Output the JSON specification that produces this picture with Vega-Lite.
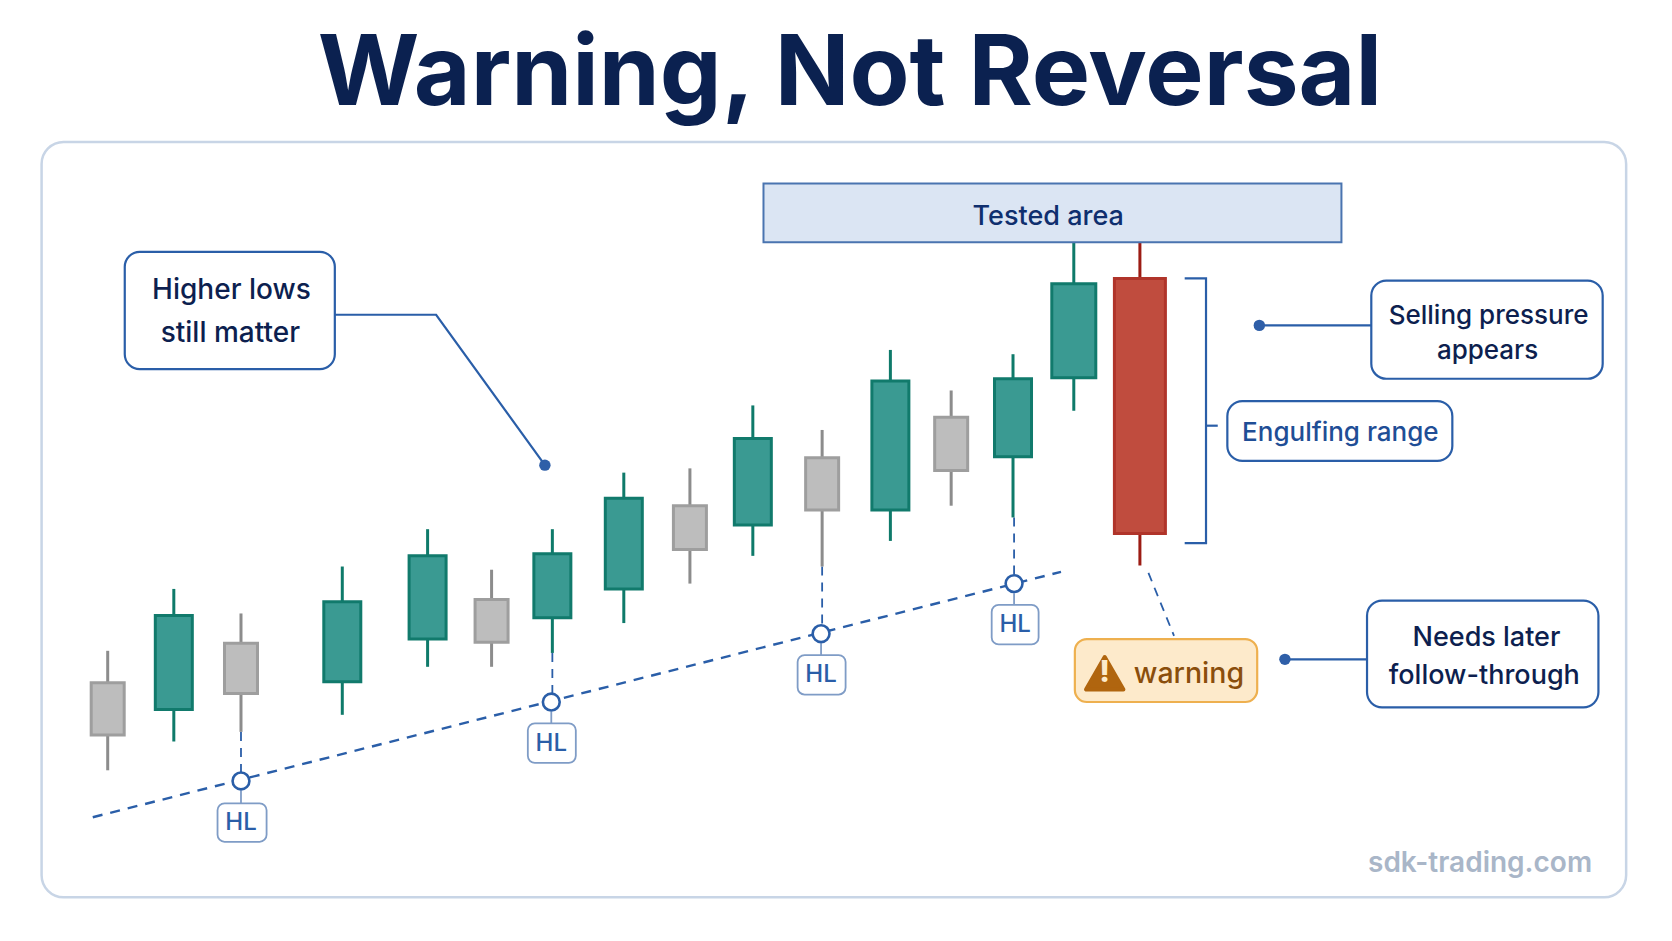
{
"$schema":"https://vega.github.io/schema/vega-lite/v6.json",
"width":1672,"height":941,"padding":0,
"autosize":{"type":"fit","contains":"padding"},
"background":"#ffffff",
"config":{"view":{"stroke":null},"text":{"font":"Inter"}},
"datasets":{
"candles":[
{"t":101,"high":272,"low":160,"open":193,"close":242,"kind":"neutral"},
{"t":163,"high":330,"low":187,"open":217,"close":305,"kind":"bull"},
{"t":226,"high":307,"low":196,"open":232,"close":279,"kind":"neutral"},
{"t":321,"high":351,"low":212,"open":243,"close":318,"kind":"bull"},
{"t":401,"high":386,"low":257,"open":283,"close":361,"kind":"bull"},
{"t":461,"high":348,"low":257,"open":280,"close":320,"kind":"neutral"},
{"t":518,"high":386,"low":270,"open":303,"close":363,"kind":"bull"},
{"t":585,"high":439,"low":298,"open":330,"close":415,"kind":"bull"},
{"t":647,"high":443,"low":335,"open":367,"close":408,"kind":"neutral"},
{"t":706,"high":502,"low":361,"open":390,"close":471,"kind":"bull"},
{"t":771,"high":479,"low":351,"open":404,"close":453,"kind":"neutral"},
{"t":835,"high":554,"low":375,"open":404,"close":525,"kind":"bull"},
{"t":892,"high":516,"low":408,"open":441,"close":491,"kind":"neutral"},
{"t":950,"high":550,"low":397,"open":454,"close":527,"kind":"bull"},
{"t":1007,"high":655,"low":497,"open":528,"close":616,"kind":"thrust"},
{"t":1069,"high":655,"low":352,"open":621,"close":382,"kind":"bear"}
],
"paths":[
{"id":"trend","style":"trend","i":0,"t":87,"v":116},{"id":"trend","style":"trend","i":1,"t":995,"v":346},
{"id":"d1","style":"drop","i":0,"t":226,"v":196},{"id":"d1","style":"drop","i":1,"t":226,"v":150},
{"id":"d2","style":"drop","i":0,"t":518,"v":270},{"id":"d2","style":"drop","i":1,"t":518,"v":224},
{"id":"d3","style":"drop","i":0,"t":771,"v":351},{"id":"d3","style":"drop","i":1,"t":771,"v":288},
{"id":"d4","style":"drop","i":0,"t":951,"v":397},{"id":"d4","style":"drop","i":1,"t":951,"v":335},
{"id":"w","style":"drop","i":0,"t":1077,"v":345},{"id":"w","style":"drop","i":1,"t":1101,"v":286},
{"id":"c1","style":"conn","i":0,"t":226,"v":141},{"id":"c1","style":"conn","i":1,"t":226,"v":129},
{"id":"c2","style":"conn","i":0,"t":517,"v":215},{"id":"c2","style":"conn","i":1,"t":517,"v":204},
{"id":"c3","style":"conn","i":0,"t":770,"v":279},{"id":"c3","style":"conn","i":1,"t":770,"v":268},
{"id":"c4","style":"conn","i":0,"t":951,"v":326},{"id":"c4","style":"conn","i":1,"t":951,"v":315},
{"id":"lead","style":"lead","i":0,"t":314,"v":587},{"id":"lead","style":"lead","i":1,"t":409,"v":587},{"id":"lead","style":"lead","i":2,"t":511,"v":446},
{"id":"sell","style":"lead","i":0,"t":1181,"v":577},{"id":"sell","style":"lead","i":1,"t":1286,"v":577},
{"id":"need","style":"lead","i":0,"t":1205,"v":264},{"id":"need","style":"lead","i":1,"t":1282,"v":264},
{"id":"br","style":"lead","i":0,"t":1111,"v":621},{"id":"br","style":"lead","i":1,"t":1131,"v":621},{"id":"br","style":"lead","i":2,"t":1131,"v":373},{"id":"br","style":"lead","i":3,"t":1111,"v":373},
{"id":"brt","style":"lead","i":0,"t":1131,"v":483},{"id":"brt","style":"lead","i":1,"t":1142,"v":483}
],
"boxes":[
{"role":"panel","x0":39,"x1":1525,"y0":41,"y1":749},
{"role":"tested","x0":716,"x1":1258,"y0":655,"y1":710},
{"role":"note","x0":117,"x1":314,"y0":536,"y1":646},
{"role":"note","x0":1286,"x1":1503,"y0":527,"y1":619},
{"role":"note","x0":1151,"x1":1362,"y0":450,"y1":506},
{"role":"note","x0":1282,"x1":1499,"y0":219,"y1":319},
{"role":"warn","x0":1008,"x1":1179,"y0":224,"y1":283},
{"role":"hl","x0":204,"x1":250,"y0":93,"y1":129},
{"role":"hl","x0":495,"x1":540,"y0":167,"y1":204},
{"role":"hl","x0":748,"x1":793,"y0":231,"y1":268},
{"role":"hl","x0":930,"x1":974,"y0":278,"y1":315}
],
"rings":[{"t":226,"v":150},{"t":517,"v":224},{"t":770,"v":288},{"t":951,"v":335}],
"dots":[{"t":511,"v":446},{"t":1181,"v":577},{"t":1205,"v":264}],
"labels":[
{"role":"title","text":"Warning, Not Reversal","t":797,"v":811},
{"role":"tested","text":"Tested area","t":983,"v":679},
{"role":"dark28","text":"Higher lows","t":217,"v":609},
{"role":"dark28","text":"still matter","t":216,"v":569},
{"role":"dark26","text":"Selling pressure","t":1396,"v":586},
{"role":"dark26","text":"appears","t":1395,"v":553},
{"role":"dark27","text":"Needs later","t":1394,"v":284},
{"role":"dark27","text":"follow-through","t":1392,"v":248},
{"role":"blue","text":"Engulfing range","t":1257,"v":476},
{"role":"warn","text":"warning","t":1115,"v":250},
{"role":"hl","text":"HL","t":226,"v":111},
{"role":"hl","text":"HL","t":517,"v":185},
{"role":"hl","text":"HL","t":770,"v":249},
{"role":"hl","text":"HL","t":952,"v":296},
{"role":"site","text":"sdk-trading.com","t":1388,"v":72}
],
"icon":[{"t":1036,"v":251}]
},
"layer":[
{"data":{"name":"boxes"},"transform":[{"filter":"datum.role=='panel'"}],
 "mark":{"type":"rect","cornerRadius":22,"fill":"#ffffff","stroke":"#c8d5e6","strokeWidth":2.5},
 "encoding":{"x":{"field":"x0","type":"quantitative","scale":{"domain":[0,1568],"padding":0},"axis":null},"x2":{"field":"x1"},"y":{"field":"y0","type":"quantitative","scale":{"domain":[0,882]},"axis":null},"y2":{"field":"y1"}}},
{"data":{"name":"paths"},"transform":[{"filter":"datum.style=='trend'"}],
 "mark":{"type":"line","color":"#2a5ea8","strokeWidth":2.4,"strokeDash":[10,8]},
 "encoding":{"x":{"field":"t","type":"quantitative","scale":{"domain":[0,1568],"padding":0},"axis":null},"y":{"field":"v","type":"quantitative","scale":{"domain":[0,882]},"axis":null},"detail":{"field":"id"},"order":{"field":"i"}}},
{"data":{"name":"paths"},"transform":[{"filter":"datum.style=='drop'"}],
 "mark":{"type":"line","color":"#2a5ea8","strokeWidth":1.8,"strokeDash":[9,7]},
 "encoding":{"x":{"field":"t","type":"quantitative","scale":{"domain":[0,1568],"padding":0},"axis":null},"y":{"field":"v","type":"quantitative","scale":{"domain":[0,882]},"axis":null},"detail":{"field":"id"},"order":{"field":"i"}}},
{"data":{"name":"paths"},"transform":[{"filter":"datum.style=='conn'"}],
 "mark":{"type":"line","color":"#7f9cc6","strokeWidth":1.8},
 "encoding":{"x":{"field":"t","type":"quantitative","scale":{"domain":[0,1568],"padding":0},"axis":null},"y":{"field":"v","type":"quantitative","scale":{"domain":[0,882]},"axis":null},"detail":{"field":"id"},"order":{"field":"i"}}},
{"data":{"name":"paths"},"transform":[{"filter":"datum.style=='lead'"}],
 "mark":{"type":"line","color":"#2a5ea8","strokeWidth":2.2,"strokeJoin":"miter"},
 "encoding":{"x":{"field":"t","type":"quantitative","scale":{"domain":[0,1568],"padding":0},"axis":null},"y":{"field":"v","type":"quantitative","scale":{"domain":[0,882]},"axis":null},"detail":{"field":"id"},"order":{"field":"i"}}},
{"data":{"name":"candles"},
 "mark":{"type":"rule","strokeWidth":3},
 "encoding":{"x":{"field":"t","type":"quantitative","scale":{"domain":[0,1568],"padding":0},"axis":null},"y":{"field":"low","type":"quantitative","scale":{"domain":[0,882]},"axis":null},"y2":{"field":"high"},
 "color":{"field":"kind","type":"nominal","legend":null,"scale":{"domain":["neutral","bull","thrust","bear"],"range":["#8c8c8c","#0f7a6a","#0f7a6a","#9c1c14"]}}}},
{"data":{"name":"candles"},"transform":[{"filter":"datum.kind=='neutral'"}],
 "mark":{"type":"bar","size":33,"fill":"#bdbdbd","stroke":"#9e9e9e","strokeWidth":3},
 "encoding":{"x":{"field":"t","type":"quantitative","scale":{"domain":[0,1568],"padding":0},"axis":null},"y":{"field":"open","type":"quantitative","scale":{"domain":[0,882]},"axis":null},"y2":{"field":"close"}}},
{"data":{"name":"candles"},"transform":[{"filter":"datum.kind=='bull'"}],
 "mark":{"type":"bar","size":37,"fill":"#3a9a92","stroke":"#117a6c","strokeWidth":3},
 "encoding":{"x":{"field":"t","type":"quantitative","scale":{"domain":[0,1568],"padding":0},"axis":null},"y":{"field":"open","type":"quantitative","scale":{"domain":[0,882]},"axis":null},"y2":{"field":"close"}}},
{"data":{"name":"candles"},"transform":[{"filter":"datum.kind=='thrust'"}],
 "mark":{"type":"bar","size":44,"fill":"#3a9a92","stroke":"#117a6c","strokeWidth":3},
 "encoding":{"x":{"field":"t","type":"quantitative","scale":{"domain":[0,1568],"padding":0},"axis":null},"y":{"field":"open","type":"quantitative","scale":{"domain":[0,882]},"axis":null},"y2":{"field":"close"}}},
{"data":{"name":"candles"},"transform":[{"filter":"datum.kind=='bear'"}],
 "mark":{"type":"bar","size":51,"fill":"#c04c3e","stroke":"#b0342a","strokeWidth":3},
 "encoding":{"x":{"field":"t","type":"quantitative","scale":{"domain":[0,1568],"padding":0},"axis":null},"y":{"field":"open","type":"quantitative","scale":{"domain":[0,882]},"axis":null},"y2":{"field":"close"}}},
{"data":{"name":"boxes"},"transform":[{"filter":"datum.role=='tested'"}],
 "mark":{"type":"rect","fill":"#dbe5f3","stroke":"#4a74b0","strokeWidth":2},
 "encoding":{"x":{"field":"x0","type":"quantitative","scale":{"domain":[0,1568],"padding":0},"axis":null},"x2":{"field":"x1"},"y":{"field":"y0","type":"quantitative","scale":{"domain":[0,882]},"axis":null},"y2":{"field":"y1"}}},
{"data":{"name":"boxes"},"transform":[{"filter":"datum.role=='note'"}],
 "mark":{"type":"rect","cornerRadius":15,"fill":"#ffffff","stroke":"#2a5ea8","strokeWidth":2.2},
 "encoding":{"x":{"field":"x0","type":"quantitative","scale":{"domain":[0,1568],"padding":0},"axis":null},"x2":{"field":"x1"},"y":{"field":"y0","type":"quantitative","scale":{"domain":[0,882]},"axis":null},"y2":{"field":"y1"}}},
{"data":{"name":"boxes"},"transform":[{"filter":"datum.role=='warn'"}],
 "mark":{"type":"rect","cornerRadius":12,"fill":"#fdeacb","stroke":"#eeb04f","strokeWidth":2.2},
 "encoding":{"x":{"field":"x0","type":"quantitative","scale":{"domain":[0,1568],"padding":0},"axis":null},"x2":{"field":"x1"},"y":{"field":"y0","type":"quantitative","scale":{"domain":[0,882]},"axis":null},"y2":{"field":"y1"}}},
{"data":{"name":"boxes"},"transform":[{"filter":"datum.role=='hl'"}],
 "mark":{"type":"rect","cornerRadius":7,"fill":"#ffffff","stroke":"#7f9cc6","strokeWidth":1.8},
 "encoding":{"x":{"field":"x0","type":"quantitative","scale":{"domain":[0,1568],"padding":0},"axis":null},"x2":{"field":"x1"},"y":{"field":"y0","type":"quantitative","scale":{"domain":[0,882]},"axis":null},"y2":{"field":"y1"}}},
{"data":{"name":"rings"},
 "mark":{"type":"point","shape":"circle","filled":true,"fill":"#ffffff","stroke":"#2a5ea8","strokeWidth":2.6,"size":283,"opacity":1},
 "encoding":{"x":{"field":"t","type":"quantitative","scale":{"domain":[0,1568],"padding":0},"axis":null},"y":{"field":"v","type":"quantitative","scale":{"domain":[0,882]},"axis":null}}},
{"data":{"name":"dots"},
 "mark":{"type":"point","shape":"circle","filled":true,"fill":"#2f5fa8","size":130,"opacity":1},
 "encoding":{"x":{"field":"t","type":"quantitative","scale":{"domain":[0,1568],"padding":0},"axis":null},"y":{"field":"v","type":"quantitative","scale":{"domain":[0,882]},"axis":null}}},
{"data":{"name":"icon"},
 "mark":{"type":"point","shape":"triangle-up","filled":true,"fill":"#b0650f","stroke":"#b0650f","strokeWidth":4,"strokeJoin":"round","size":1400,"opacity":1},
 "encoding":{"x":{"field":"t","type":"quantitative","scale":{"domain":[0,1568],"padding":0},"axis":null},"y":{"field":"v","type":"quantitative","scale":{"domain":[0,882]},"axis":null}}},
{"data":{"name":"icon"},
 "mark":{"type":"text","text":"!","font":"Inter","fontSize":30,"fontWeight":800,"fill":"#fdeacb","baseline":"middle","align":"center"},
 "encoding":{"x":{"field":"t","type":"quantitative","scale":{"domain":[0,1568],"padding":0},"axis":null},"y":{"field":"v","type":"quantitative","scale":{"domain":[0,882]},"axis":null}}},
{"data":{"name":"labels"},"transform":[{"filter":"datum.role=='title'"}],
 "mark":{"type":"text","font":"Inter","fontSize":98,"fontWeight":700,"fill":"#0b2150","baseline":"middle","align":"center"},
 "encoding":{"text":{"field":"text"},"x":{"field":"t","type":"quantitative","scale":{"domain":[0,1568],"padding":0},"axis":null},"y":{"field":"v","type":"quantitative","scale":{"domain":[0,882]},"axis":null}}},
{"data":{"name":"labels"},"transform":[{"filter":"datum.role=='tested'"}],
 "mark":{"type":"text","font":"Inter","fontSize":27,"fontWeight":500,"fill":"#0f2f6e","baseline":"middle","align":"center"},
 "encoding":{"text":{"field":"text"},"x":{"field":"t","type":"quantitative","scale":{"domain":[0,1568],"padding":0},"axis":null},"y":{"field":"v","type":"quantitative","scale":{"domain":[0,882]},"axis":null}}},
{"data":{"name":"labels"},"transform":[{"filter":"datum.role=='dark28'"}],
 "mark":{"type":"text","font":"Inter","fontSize":28,"fontWeight":500,"fill":"#0d1f4f","baseline":"middle","align":"center"},
 "encoding":{"text":{"field":"text"},"x":{"field":"t","type":"quantitative","scale":{"domain":[0,1568],"padding":0},"axis":null},"y":{"field":"v","type":"quantitative","scale":{"domain":[0,882]},"axis":null}}},
{"data":{"name":"labels"},"transform":[{"filter":"datum.role=='dark26'"}],
 "mark":{"type":"text","font":"Inter","fontSize":26,"fontWeight":500,"fill":"#0d1f4f","baseline":"middle","align":"center"},
 "encoding":{"text":{"field":"text"},"x":{"field":"t","type":"quantitative","scale":{"domain":[0,1568],"padding":0},"axis":null},"y":{"field":"v","type":"quantitative","scale":{"domain":[0,882]},"axis":null}}},
{"data":{"name":"labels"},"transform":[{"filter":"datum.role=='dark27'"}],
 "mark":{"type":"text","font":"Inter","fontSize":27,"fontWeight":500,"fill":"#0d1f4f","baseline":"middle","align":"center"},
 "encoding":{"text":{"field":"text"},"x":{"field":"t","type":"quantitative","scale":{"domain":[0,1568],"padding":0},"axis":null},"y":{"field":"v","type":"quantitative","scale":{"domain":[0,882]},"axis":null}}},
{"data":{"name":"labels"},"transform":[{"filter":"datum.role=='blue'"}],
 "mark":{"type":"text","font":"Inter","fontSize":26,"fontWeight":500,"fill":"#1f4e96","baseline":"middle","align":"center"},
 "encoding":{"text":{"field":"text"},"x":{"field":"t","type":"quantitative","scale":{"domain":[0,1568],"padding":0},"axis":null},"y":{"field":"v","type":"quantitative","scale":{"domain":[0,882]},"axis":null}}},
{"data":{"name":"labels"},"transform":[{"filter":"datum.role=='warn'"}],
 "mark":{"type":"text","font":"Inter","fontSize":28.5,"fontWeight":500,"fill":"#8a4e0c","baseline":"middle","align":"center"},
 "encoding":{"text":{"field":"text"},"x":{"field":"t","type":"quantitative","scale":{"domain":[0,1568],"padding":0},"axis":null},"y":{"field":"v","type":"quantitative","scale":{"domain":[0,882]},"axis":null}}},
{"data":{"name":"labels"},"transform":[{"filter":"datum.role=='hl'"}],
 "mark":{"type":"text","font":"Inter","fontSize":24,"fontWeight":500,"fill":"#2a5ea8","baseline":"middle","align":"center"},
 "encoding":{"text":{"field":"text"},"x":{"field":"t","type":"quantitative","scale":{"domain":[0,1568],"padding":0},"axis":null},"y":{"field":"v","type":"quantitative","scale":{"domain":[0,882]},"axis":null}}},
{"data":{"name":"labels"},"transform":[{"filter":"datum.role=='site'"}],
 "mark":{"type":"text","font":"Inter","fontSize":28,"fontWeight":600,"fill":"#a9b6c8","baseline":"middle","align":"center"},
 "encoding":{"text":{"field":"text"},"x":{"field":"t","type":"quantitative","scale":{"domain":[0,1568],"padding":0},"axis":null},"y":{"field":"v","type":"quantitative","scale":{"domain":[0,882]},"axis":null}}}
]
}
